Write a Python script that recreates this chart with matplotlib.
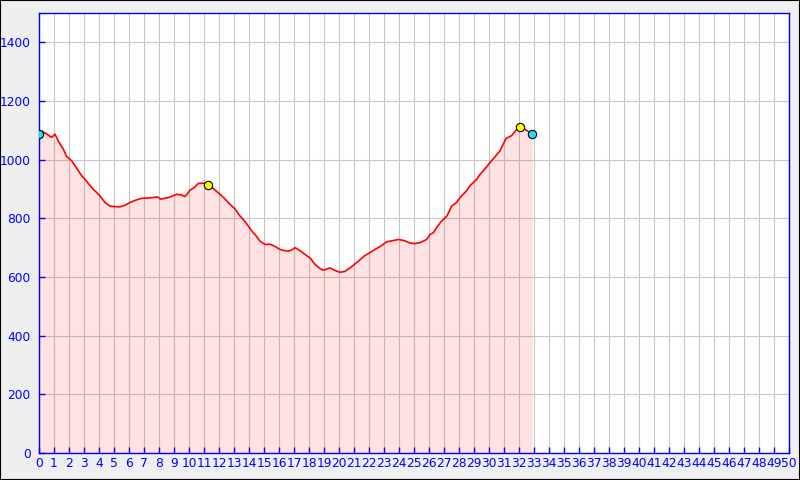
import matplotlib
matplotlib.use("Agg")
import matplotlib.pyplot as plt
from matplotlib.patches import Rectangle

# distance (km) and elevation (m)
km = [0.0, 0.2, 0.5, 0.84, 1.07, 1.3, 1.62, 1.84, 2.18, 2.4, 2.62, 2.85, 3.07,
      3.35, 3.62, 3.85, 4.07, 4.4, 4.73, 5.07, 5.4, 5.75, 6.07, 6.45, 6.84,
      7.2, 7.62, 7.9, 8.1, 8.29, 8.7, 9.18, 9.5, 9.73, 10.07, 10.35, 10.62,
      10.95, 11.29, 11.7, 12.07, 12.4, 12.73, 13.07, 13.4, 13.8, 14.18, 14.45,
      14.73, 15.07, 15.4, 15.7, 16.07, 16.35, 16.62, 16.85, 17.07, 17.4, 17.73,
      18.07, 18.4, 18.7, 18.96, 19.4, 19.7, 20.07, 20.4, 20.73, 21.2, 21.73,
      22.07, 22.4, 22.8, 23.18, 23.6, 23.96, 24.35, 24.73, 25.07, 25.4, 25.84,
      26.07, 26.29, 26.5, 26.84, 27.2, 27.51, 27.84, 28.07, 28.51, 28.73,
      29.18, 29.4, 29.75, 30.07, 30.4, 30.73, 31.13, 31.51, 31.8, 32.07,
      32.5, 32.89]
elev = [1088, 1097, 1088, 1076, 1087, 1062, 1036, 1011, 996, 980, 962, 945, 933,
        915, 899, 888, 876, 854, 842, 840, 839, 845, 854, 862, 868,
        869, 871, 873, 866, 867, 872, 882, 880, 874, 896, 905, 919,
        920, 915, 898, 882, 866, 848, 832, 808, 785, 757, 742,
        722, 711, 712, 705, 694, 690, 688, 692, 700, 690, 677,
        665, 643, 630, 623, 631, 623, 616, 619, 631, 650, 673,
        683, 694, 706, 720, 724, 728, 724, 716, 714, 717, 728,
        745, 751, 768, 791, 808, 842, 854, 871, 894, 911,
        933, 950, 970, 990, 1010, 1030, 1072, 1082, 1100, 1113,
        1100, 1087]

# highlighted points: start/end (cyan) and summits (yellow)
end_km = [0.0, 32.89]
end_elev = [1088, 1087]
top_km = [11.29, 32.07]
top_elev = [915, 1113]

x_ticks = list(range(0, 51))
y_ticks = list(range(0, 1401, 200))

fig = plt.figure(figsize=(8, 4.8), dpi=100)
fig.patch.set_facecolor("#efefef")
fig.patches.append(Rectangle((0, 0), 1, 1, transform=fig.transFigure,
                             fill=False, edgecolor="black", linewidth=1.5))

ax = fig.add_axes([39 / 800, 27 / 480, 750 / 800, 440 / 480])
ax.set_facecolor("white")

ax.fill_between(km, elev, 0, color="red", alpha=0.11, linewidth=0)
ax.plot(km, elev, color="red", linewidth=1.2, zorder=3)
ax.plot(end_km, end_elev, "o", color="#22ddee", markeredgecolor="black",
        markeredgewidth=0.8, markersize=6, zorder=4)
ax.plot(top_km, top_elev, "o", color="#ffff00", markeredgecolor="black",
        markeredgewidth=0.8, markersize=6, zorder=4)

ax.set_xlim(0, 50)
ax.set_ylim(0, 1500)
ax.set_xticks(x_ticks)
ax.set_yticks(y_ticks)
ax.grid(True, color="#c8c8c8", linewidth=0.8)
ax.set_axisbelow(True)

for s in ax.spines.values():
    s.set_color("blue")
    s.set_linewidth(1)

ax.tick_params(axis="both", direction="in", length=4, color="blue",
               labelcolor="blue", labelsize=8.8, width=1)
ax.tick_params(axis="x", pad=3)
ax.tick_params(axis="y", pad=6)

fig.savefig("out.png", dpi=100, facecolor=fig.get_facecolor())
